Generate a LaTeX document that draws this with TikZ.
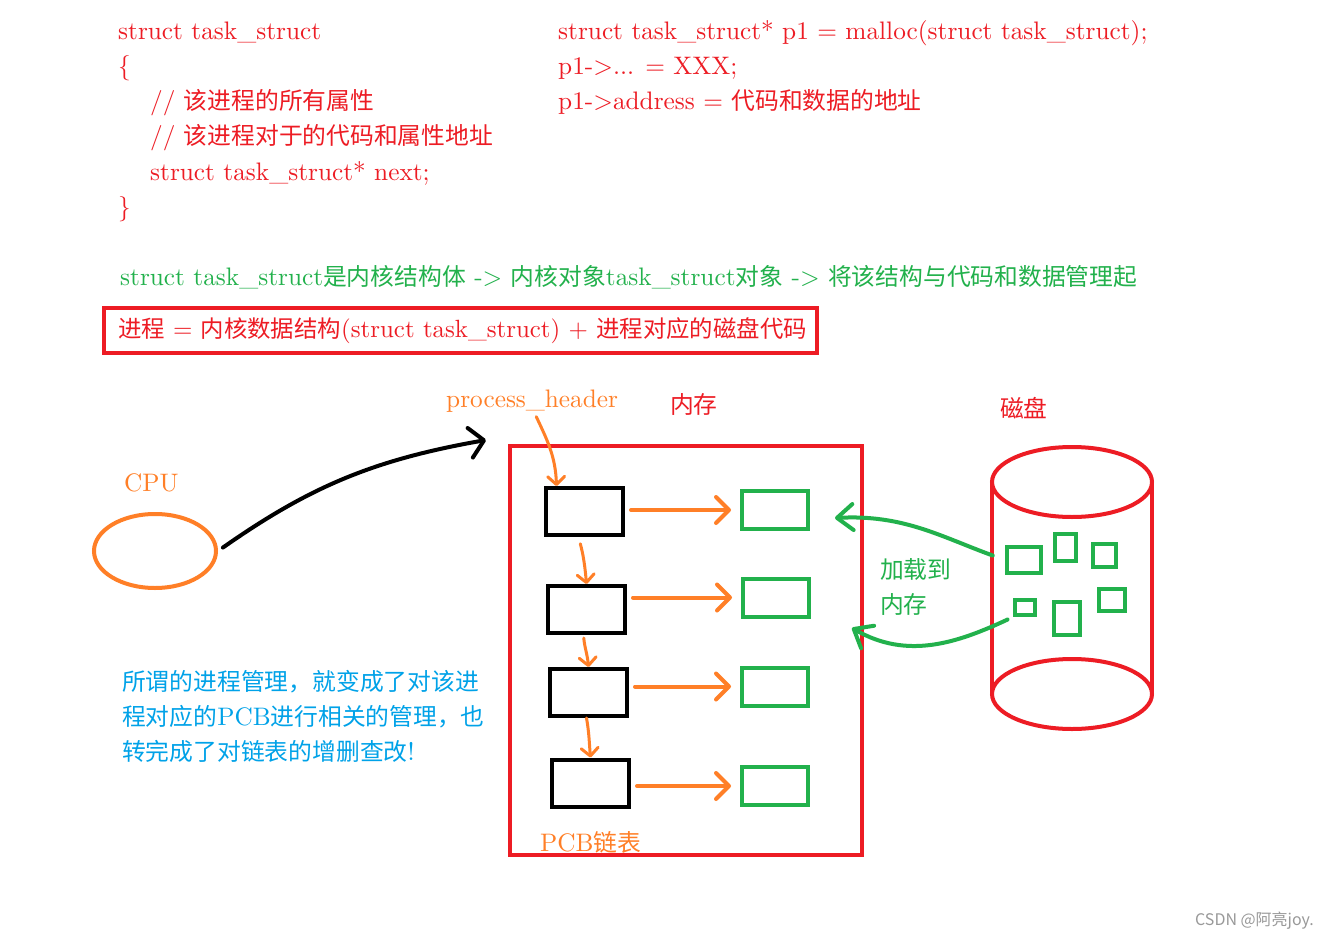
\documentclass[tikz,border=0pt]{standalone}
\usepackage{fontspec}
\setmainfont{lmroman10-regular.otf}
\newfontfamily\cjk{Noto Sans CJK SC}[Scale=0.94]
\usetikzlibrary{arrows.meta,shapes.geometric}
\definecolor{pred}{HTML}{ED1C24}
\definecolor{pgreen}{HTML}{22B14C}
\definecolor{porange}{HTML}{FF7F27}
\definecolor{pblue}{HTML}{00A2E8}
\newcommand{\zh}[1]{{\cjk #1}}
\tikzset{
  txt/.style={inner sep=0pt, anchor=base west},
  code/.style={txt, text=pred},
  pcb/.style={draw=black, line width=4pt, minimum width=77pt, minimum height=47pt, inner sep=0pt},
  datablk/.style={draw=pgreen, line width=4pt, minimum width=66pt, minimum height=38pt, inner sep=0pt},
  fileblk/.style={draw=pgreen, line width=4pt, inner sep=0pt},
  diskline/.style={draw=pred, line width=4pt},
  link/.style={porange, line width=4pt, line cap=round, -{Straight Barb[length=13pt,width=26pt,round]}, shorten <=6pt, shorten >=9pt},
  nextptr/.style={porange, line width=3pt, line cap=round, -{Straight Barb[length=8pt,width=17pt,round]}},
  loadarrow/.style={pgreen, line width=4pt, line cap=round, -{Straight Barb[length=16pt,width=26pt,round]}},
  cpuarrow/.style={black, line width=4pt, line cap=round, -{Straight Barb[length=14pt,width=30pt,round]}}
}
\begin{document}
\begin{tikzpicture}[x=1pt, y=-1pt, font=\fontsize{25.3}{31}\selectfont]
\fill[white] (0,0) rectangle (1325,939);
\useasboundingbox (0,0) rectangle (1325,939);
\node[code] (s1) at (118,40) {struct task\_struct};
\node[code] (s2) at (118,75) {\{};
\node[code] (s3) at (150,110) {// \zh{该进程的所有属性}};
\node[code] (s4) at (150,145) {// \zh{该进程对于的代码和属性地址}};
\node[code] (s5) at (150,180) {struct task\_struct* next;};
\node[code] (s6) at (118,215) {\}};
\node[code] (a1) at (558,40) {struct task\_struct* p1 = malloc(struct task\_struct);};
\node[code] (a2) at (558,75) {p1->... = XXX;};
\node[code] (a3) at (558,110) {p1->address = \zh{代码和数据的地址}};
\node[txt, text=pgreen] (note) at (120,285) {struct task\_struct\zh{是内核结构体} -> \zh{内核对象}task\_struct\zh{对象} -> \zh{将该结构与代码和数据管理起}};
\node[draw=pred, line width=4pt, minimum width=713pt, minimum height=45pt, inner xsep=14pt, inner ysep=0pt, text=pred, font=\fontsize{24.9}{31}\selectfont] (eq) at (460.5,330.5) {\makebox[685pt][l]{\zh{进程} = \zh{内核数据结构}(struct task\_struct) + \zh{进程对应的磁盘代码}}};
\node[txt, text=porange] (head) at (446,407) {process\_header};
\node[txt, text=pred, anchor=west] (memlabel) at (670,404) {\zh{内存}};
\node[txt, text=pred, anchor=west] (disklabel) at (1000,408) {\zh{磁盘}};
\node[txt, text=porange] (cpulabel) at (124,491) {CPU};
\node[ellipse, draw=porange, line width=4pt, minimum width=122pt, minimum height=74pt, inner sep=0pt] (cpu) at (155,551) {};
\node[draw=pred, line width=4pt, minimum width=352pt, minimum height=409pt, inner sep=0pt] (mem) at (686,650.5) {};
\node[txt, text=porange] (pcblist) at (540,851) {PCB\zh{链表}};
\node[pcb] (pcb1) at (584.5,511.5) {};
\node[pcb] (pcb2) at (586.5,609.5) {};
\node[pcb] (pcb3) at (588.5,692.5) {};
\node[pcb] (pcb4) at (590.5,783) {};
\node[datablk] (data1) at (775,510) {};
\node[datablk] (data2) at (776,597.5) {};
\node[datablk] (data3) at (775,686.5) {};
\node[datablk] (data4) at (775,786) {};
\draw[link] (pcb1.east |- data1.west) -- (data1.west);
\draw[link] (pcb2.east |- data2.west) -- (data2.west);
\draw[link] (pcb3.east |- data3.west) -- (data3.west);
\draw[link] (pcb4.east |- data4.west) -- (data4.west);
\draw[nextptr, shorten <=5pt] ([xshift=2pt]head.south) to[out=-65,in=92] ([xshift=-28pt]pcb1.north);
\draw[nextptr, shorten <=7pt] ([xshift=-6pt]pcb1.south) to[out=-75,in=95] (pcb2.north);
\draw[nextptr, shorten <=3pt] ([xshift=-3pt]pcb2.south) to[out=-85,in=95] (pcb3.north);
\draw[nextptr] ([xshift=-2pt]pcb3.south) to[out=-80,in=95] (pcb4.north);
\coordinate (cpuptr) at (486,440);
\draw[cpuarrow, shorten <=6pt] (cpu.east) to[out=35,in=190] (cpuptr);
\draw[diskline] (1072,482) ellipse [x radius=80pt, y radius=35pt];
\draw[diskline] (1072,694) ellipse [x radius=80pt, y radius=35pt];
\draw[diskline] (992,482) -- (992,694) (1152,482) -- (1152,694);
\node[fileblk, minimum width=34pt, minimum height=26pt] (file1) at (1024,560) {};
\node[fileblk, minimum width=21pt, minimum height=27pt] (file2) at (1065.5,547.5) {};
\node[fileblk, minimum width=23pt, minimum height=23pt] (file3) at (1104.5,555.5) {};
\node[fileblk, minimum width=20pt, minimum height=15pt] (file4) at (1025,607.5) {};
\node[fileblk, minimum width=26pt, minimum height=33pt] (file5) at (1067,618.5) {};
\node[fileblk, minimum width=26pt, minimum height=22pt] (file6) at (1112,600) {};
\coordinate (memin1) at (835,518);
\coordinate (memin2) at (852,628);
\draw[loadarrow, shorten <=13pt] (file1.west) to[out=160,in=3] (memin1);
\draw[loadarrow, shorten <=6pt] (file4.south west) to[out=205,in=-30] (memin2);
\node[txt, text=pgreen, anchor=west, align=left, font=\fontsize{25.3}{35}\selectfont] (loadtxt) at (880,586.5) {\zh{加载到}\\\zh{内存}};
\node[txt, text=pblue, anchor=west, align=left, font=\fontsize{25.3}{35}\selectfont] (mgmt) at (122,716) {\zh{所谓的进程管理，就变成了对该进}\\\zh{程对应的}PCB\zh{进行相关的管理，也}\\\zh{转完成了对链表的增删查改}!};
\node[txt, text=black!40, anchor=west, font=\cjk\fontsize{17}{20}\selectfont] (mark) at (1195,921) {CSDN @阿亮joy.};
\end{tikzpicture}
\end{document}
